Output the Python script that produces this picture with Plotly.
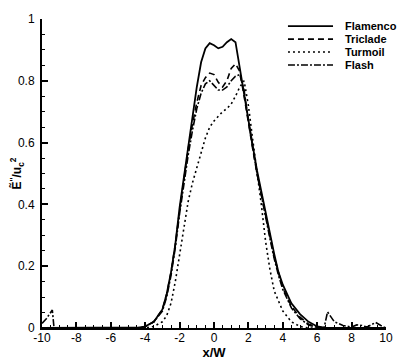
import plotly.graph_objects as go

# Flamenco (solid)
flamenco_x = [-10, -4.5, -4.2, -4.0, -3.5, -3.0, -2.75, -2.5, -2.25, -2.0, -1.75, -1.5, -1.25, -1.0,
              -0.75, -0.5, -0.25, 0.0, 0.25, 0.5, 0.75, 1.0, 1.25, 1.5, 1.75, 2.0, 2.25, 2.5, 2.75,
              3.0, 3.25, 3.5, 3.75, 4.0, 4.5, 5.0, 5.5, 6.0, 6.5, 10]
flamenco_y = [0, 0, 0.002, 0.005, 0.02, 0.06, 0.11, 0.18, 0.27, 0.39, 0.49, 0.59, 0.68, 0.78,
              0.86, 0.905, 0.922, 0.915, 0.905, 0.91, 0.925, 0.935, 0.925, 0.84, 0.745, 0.66, 0.59,
              0.51, 0.44, 0.37, 0.31, 0.24, 0.18, 0.14, 0.08, 0.045, 0.02, 0.005, 0, 0]

# Triclade (dashed)
triclade_x = [-10, -4.5, -4.0, -3.5, -3.0, -2.75, -2.5, -2.25, -2.0, -1.75, -1.5, -1.25, -1.0, -0.75,
              -0.5, -0.25, 0.0, 0.25, 0.5, 0.75, 1.0, 1.25, 1.5, 1.75, 2.0, 2.25, 2.5, 2.75, 3.0,
              3.25, 3.5, 3.75, 4.0, 4.5, 5.0, 5.5, 6.0, 6.5, 10]
triclade_y = [0, 0, 0.005, 0.02, 0.06, 0.11, 0.18, 0.27, 0.38, 0.48, 0.58, 0.66, 0.73, 0.785,
              0.81, 0.825, 0.82, 0.795, 0.78, 0.80, 0.84, 0.855, 0.83, 0.75, 0.66, 0.58, 0.50,
              0.43, 0.36, 0.30, 0.23, 0.18, 0.13, 0.07, 0.035, 0.012, 0.003, 0, 0]

# Turmoil (dotted)
turmoil_x = [-10, -4.0, -3.5, -3.0, -2.75, -2.5, -2.25, -2.0, -1.75, -1.5, -1.25, -1.0, -0.75, -0.5,
             -0.25, 0.0, 0.25, 0.5, 0.75, 1.0, 1.25, 1.5, 1.75, 2.0, 2.25, 2.5, 2.75, 3.0, 3.25,
             3.5, 4.0, 4.5, 5.0, 5.5, 10]
turmoil_y = [0, 0, 0.005, 0.02, 0.04, 0.08, 0.15, 0.24, 0.32, 0.41, 0.47, 0.52, 0.565, 0.615,
             0.65, 0.67, 0.685, 0.70, 0.71, 0.725, 0.75, 0.78, 0.80, 0.72, 0.61, 0.51, 0.40,
             0.28, 0.19, 0.12, 0.055, 0.02, 0.005, 0, 0]

# Flash (dash-dot)
flash_x = [-10, -9.75, -9.5, -9.4, -9.3, -9.0, -4.5, -4.0, -3.5, -3.0, -2.75, -2.5, -2.25, -2.0,
           -1.75, -1.5, -1.25, -1.0, -0.75, -0.5, -0.25, 0.0, 0.25, 0.5, 0.75, 1.0, 1.25, 1.5,
           1.75, 2.0, 2.25, 2.5, 2.75, 3.0, 3.25, 3.5, 3.75, 4.0, 4.5, 5.0, 5.5, 6.0, 6.4, 6.6,
           6.8, 7.0, 7.5, 8.0, 8.3, 8.6, 8.9, 9.2, 9.4, 9.7, 10]
flash_y = [0.015, 0.03, 0.05, 0.058, 0, 0, 0, 0.005, 0.02, 0.055, 0.10, 0.17, 0.26, 0.37,
           0.47, 0.56, 0.64, 0.71, 0.76, 0.79, 0.80, 0.785, 0.77, 0.77, 0.78, 0.80, 0.815, 0.82,
           0.77, 0.67, 0.58, 0.50, 0.43, 0.355, 0.29, 0.225, 0.17, 0.125, 0.065, 0.03, 0.01,
           0.002, 0, 0.052, 0.035, 0.02, 0.008, 0.003, 0.01, 0.008, 0.003, 0.012, 0.018, 0.008, 0]

x_ticks = [-10, -8, -6, -4, -2, 0, 2, 4, 6, 8, 10]
y_ticks = [0, 0.2, 0.4, 0.6, 0.8, 1]

series = [
    ("Flamenco", flamenco_x, flamenco_y, "solid", 1.8),
    ("Triclade", triclade_x, triclade_y, "6px,4px", 1.6),
    ("Turmoil", turmoil_x, turmoil_y, "2px,3px", 1.6),
    ("Flash", flash_x, flash_y, "7px,2px,2px,2px", 1.6),
]

fig = go.Figure()
for name, xs, ys, dash, w in series:
    fig.add_trace(go.Scatter(x=xs, y=ys, mode="lines", name=name, showlegend=False,
                             line=dict(color="black", width=w, dash=dash)))

# legend drawn by hand so rows sit as tight as in the original
leg_x0, leg_x1, leg_tx = 0.715, 0.846, 0.875
leg_y0, leg_step = 0.977, 0.042
for i, (name, xs, ys, dash, w) in enumerate(series):
    yy = leg_y0 - i * leg_step
    fig.add_shape(type="line", xref="paper", yref="paper", x0=leg_x0, x1=leg_x1, y0=yy, y1=yy,
                  line=dict(color="black", width=w, dash=dash))
    fig.add_annotation(xref="paper", yref="paper", x=leg_tx, y=yy, text="<b>" + name + "</b>",
                       showarrow=False, xanchor="left", yanchor="middle",
                       font=dict(size=11, color="black"))

axis_common = dict(showline=True, linecolor="black", linewidth=2, ticks="inside",
                   tickcolor="black", tickwidth=1.5, ticklen=6, showgrid=False, zeroline=False,
                   automargin=False, tickfont=dict(size=12, color="black"))

fig.update_xaxes(range=[-10, 10], tickvals=x_ticks, ticktext=[str(v) for v in x_ticks],
                 ticklabelstandoff=-2,
                 minor=dict(dtick=0.5, ticks="inside", ticklen=3, tickcolor="black", tickwidth=1),
                 title=dict(text="<b>x/W</b>", font=dict(size=13), standoff=0), **axis_common)
fig.update_yaxes(range=[0, 1], tickvals=y_ticks, ticktext=["0", "0.2", "0.4", "0.6", "0.8", "1"],
                 ticklabelstandoff=3,
                 minor=dict(dtick=0.05, ticks="inside", ticklen=3, tickcolor="black", tickwidth=1),
                 title=dict(text="<b>E\u0303<sup>''</sup>/u<sub>c</sub><sup>2</sup></b>",
                            font=dict(size=12), standoff=2), **axis_common)

# page body has an 8px margin, so the figure is a bit smaller and margins are trimmed
fig.update_layout(
    width=399, height=354,
    margin=dict(l=34, r=21, t=11, b=34),
    plot_bgcolor="white", paper_bgcolor="white",
    font=dict(family="Liberation Sans, Arial, sans-serif", color="black"),
    showlegend=False,
)

fig.write_html("out.html")
